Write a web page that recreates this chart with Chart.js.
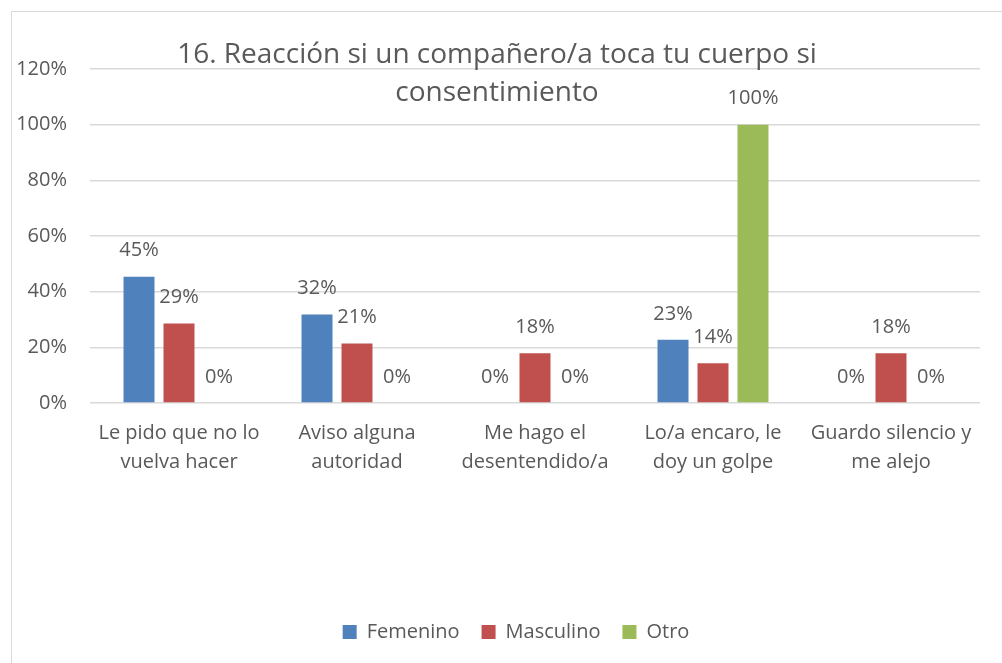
<!DOCTYPE html>
<html>
<head>
<meta charset="utf-8">
<script src="https://cdn.jsdelivr.net/npm/chart.js@4.4.0/dist/chart.umd.min.js"></script>
<style>
  body { margin: 0; background: #fff; overflow: hidden; }
  #wrap { position: relative; width: 1002px; height: 663px; }
  #frame { position: absolute; left: 11px; top: 11px; width: 1100px; height: 700px; border: 1px solid #d9d9d9; }
  #chart { position: absolute; left: 0; top: 0; }
</style>
</head>
<body>
<div id="wrap">
  <div id="frame"></div>
  <canvas id="chart" width="1002" height="663"></canvas>
</div>
<script>
// datos
const categorias = [
  ["Le pido que no lo", "vuelva hacer"],
  ["Aviso alguna", "autoridad"],
  ["Me hago el", "desentendido/a"],
  ["Lo/a encaro, le", "doy un golpe"],
  ["Guardo silencio y", "me alejo"],
];
const femenino = [45.4, 31.8, 0, 22.7, 0];
const masculino = [28.6, 21.4, 17.9, 14.3, 17.9];
const otro = [0, 0, 0, 100, 0];
const ticksY = [0, 20, 40, 60, 80, 100, 120];

const titulo = ["16. Reacción si un compañero/a toca tu cuerpo si", "consentimiento"];
const gris = "#595959";
const fuente = "'Open Sans', sans-serif";

// etiquetas de datos encima de cada barra
const etiquetas = {
  id: "etiquetas",
  afterDatasetsDraw(chart) {
    const ctx = chart.ctx;
    ctx.save();
    ctx.font = "20px " + fuente;
    ctx.fillStyle = gris;
    ctx.textAlign = "center";
    ctx.textBaseline = "middle";
    chart.data.datasets.forEach((ds, i) => {
      chart.getDatasetMeta(i).data.forEach((bar, j) => {
        ctx.fillText(Math.round(ds.data[j]) + "%", bar.x, bar.y - 26);
      });
    });
    ctx.restore();
  },
};

// titulo superpuesto al area del grafico, como en Excel
const tituloPlugin = {
  id: "tituloPlugin",
  afterLayout(chart) {
    // la leyenda del original esta algo a la derecha del centro
    chart.legend.left += 26;
    chart.legend.right += 26;
  },
  afterDraw(chart) {
    const ctx = chart.ctx;
    ctx.save();
    ctx.font = "28px " + fuente;
    ctx.fillStyle = gris;
    ctx.textAlign = "center";
    ctx.textBaseline = "middle";
    ctx.fillText(titulo[0], 497, 55);
    ctx.fillText(titulo[1], 497, 93);
    ctx.restore();
  },
};

new Chart(document.getElementById("chart"), {
  type: "bar",
  data: {
    labels: categorias,
    datasets: [
      { label: "Femenino", data: femenino, backgroundColor: "#4F81BD" },
      { label: "Masculino", data: masculino, backgroundColor: "#C0504D" },
      { label: "Otro", data: otro, backgroundColor: "#9BBB59" },
    ],
  },
  options: {
    responsive: false,
    animation: false,
    categoryPercentage: 0.674,
    barPercentage: 0.775,
    layout: { padding: { top: 69, right: 22, bottom: 11, left: 0 } },
    plugins: {
      title: { display: false },
      tooltip: { enabled: false },
      legend: {
        position: "bottom",
        labels: {
          boxWidth: 14,
          boxHeight: 14,
          padding: 22,
          color: gris,
          font: { size: 20, family: fuente },
        },
      },
    },
    scales: {
      x: {
        grid: { display: false },
        border: { display: false },
        ticks: {
          color: gris,
          font: { size: 20, family: fuente, lineHeight: 1.45 },
          padding: 8,
          maxRotation: 0,
          autoSkip: false,
        },
        afterFit(scale) { scale.height = 197; },
      },
      y: {
        min: 0,
        max: 120,
        afterBuildTicks(scale) { scale.ticks = ticksY.map((v) => ({ value: v })); },
        grid: { color: "#d9d9d9", lineWidth: 1.5, drawTicks: false },
        border: { display: false },
        ticks: {
          color: gris,
          font: { size: 20, family: fuente },
          padding: 23,
          callback: (v) => v + "%",
        },
        afterFit(scale) { scale.width = 90; },
      },
    },
  },
  plugins: [etiquetas, tituloPlugin],
});
</script>
</body>
</html>
